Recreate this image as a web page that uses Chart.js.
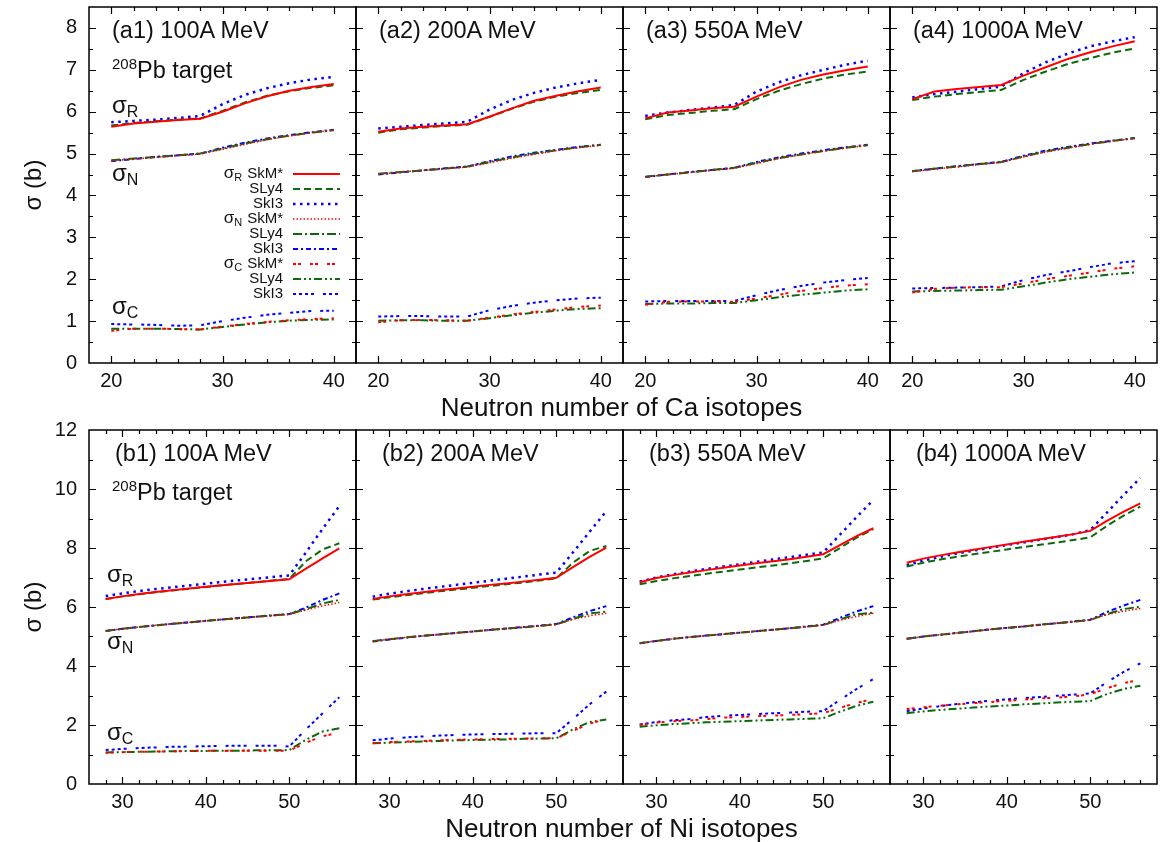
<!DOCTYPE html>
<html>
<head>
<meta charset="utf-8">
<script src="https://cdn.jsdelivr.net/npm/chart.js@4.4.0/dist/chart.umd.min.js"></script>
<style>
body{margin:0;background:#fff;width:1161px;height:842px;position:relative;overflow:hidden;font-family:"Liberation Sans",Arial,Helvetica,sans-serif;color:#111}
canvas{position:absolute}
.lbl{position:absolute;white-space:nowrap;line-height:1;z-index:2}
.title{font-size:23.5px}
.sig{font-size:24px}
.sig sub{font-size:16px;vertical-align:-4px;line-height:0}
.pb{font-size:23.5px}
.pb sup{font-size:15px;vertical-align:9px;line-height:0}
.xt{position:absolute;font-size:26px;line-height:1;width:1161px;text-align:center;left:0;padding-left:82px;box-sizing:border-box;z-index:2}
</style>
</head>
<body>
<script>
// neutron numbers
const caN = [20,22,24,26,28,30,32,34,36,38,40]
const niN = [28,30,32,34,36,38,40,42,44,46,48,50,52,54,56]

// tick labels
const caXTicks = [20,30,40]
const niXTicks = [30,40,50]
const caYTicks = [0,1,2,3,4,5,6,7,8]
const niYTicks = [0,2,4,6,8,10,12]

const models = ["SkM*","SLy4","SkI3"]
const energies = ["100A MeV","200A MeV","550A MeV","1000A MeV"]

// each array: rows SkM*, SLy4, SkI3  (barn)
// ---- Ca isotopes ----
const a1_R = [[5.64,5.72,5.76,5.80,5.83,6.00,6.20,6.37,6.50,6.59,6.66],
              [5.67,5.73,5.77,5.81,5.84,6.02,6.22,6.38,6.49,6.57,6.63],
              [5.75,5.78,5.81,5.85,5.90,6.18,6.40,6.56,6.68,6.77,6.83]]
const a1_N = [[4.83,4.87,4.91,4.95,4.99,5.10,5.22,5.33,5.42,5.50,5.56],
              [4.84,4.88,4.92,4.96,5.00,5.12,5.24,5.34,5.43,5.50,5.56],
              [4.82,4.87,4.92,4.96,5.00,5.14,5.26,5.36,5.44,5.51,5.57]]
const a1_C = [[0.77,0.82,0.82,0.81,0.80,0.87,0.93,0.98,1.02,1.05,1.07],
              [0.82,0.82,0.82,0.81,0.80,0.86,0.92,0.97,1.01,1.03,1.04],
              [0.93,0.92,0.91,0.89,0.90,1.00,1.08,1.15,1.20,1.24,1.25]]

const a2_R = [[5.52,5.60,5.64,5.67,5.70,5.88,6.08,6.26,6.38,6.49,6.58],
              [5.50,5.58,5.62,5.66,5.69,5.88,6.07,6.24,6.36,6.45,6.52],
              [5.60,5.64,5.68,5.72,5.76,6.05,6.28,6.45,6.58,6.68,6.76]]
const a2_N = [[4.51,4.56,4.60,4.64,4.68,4.78,4.89,4.98,5.07,5.14,5.20],
              [4.52,4.56,4.60,4.64,4.69,4.80,4.91,5.00,5.08,5.15,5.21],
              [4.50,4.55,4.60,4.65,4.69,4.82,4.93,5.02,5.09,5.16,5.21]]
const a2_C = [[0.97,1.02,1.03,1.02,1.01,1.08,1.16,1.22,1.28,1.34,1.37],
              [1.01,1.02,1.02,1.01,1.01,1.07,1.14,1.20,1.25,1.29,1.31],
              [1.11,1.12,1.12,1.11,1.11,1.26,1.36,1.44,1.50,1.54,1.56]]

const a3_R = [[5.84,5.98,6.03,6.08,6.12,6.36,6.58,6.76,6.89,6.99,7.08],
              [5.82,5.92,5.97,6.02,6.06,6.30,6.50,6.66,6.79,6.89,6.96],
              [5.90,5.98,6.04,6.10,6.16,6.48,6.70,6.87,7.00,7.12,7.22]]
const a3_N = [[4.44,4.50,4.55,4.60,4.65,4.76,4.88,4.97,5.06,5.13,5.20],
              [4.45,4.50,4.55,4.61,4.66,4.78,4.89,4.98,5.06,5.14,5.20],
              [4.44,4.50,4.56,4.61,4.66,4.80,4.91,5.00,5.08,5.15,5.21]]
const a3_C = [[1.39,1.46,1.47,1.47,1.46,1.54,1.63,1.72,1.79,1.85,1.88],
              [1.41,1.42,1.42,1.43,1.43,1.50,1.57,1.63,1.68,1.73,1.76],
              [1.47,1.48,1.48,1.48,1.48,1.62,1.74,1.84,1.92,1.98,2.03]]

const a4_R = [[6.30,6.48,6.54,6.59,6.64,6.86,7.06,7.26,7.42,7.56,7.68],
              [6.28,6.36,6.42,6.47,6.52,6.76,6.96,7.14,7.28,7.41,7.51],
              [6.34,6.42,6.48,6.54,6.60,6.92,7.18,7.39,7.56,7.68,7.78]]
const a4_N = [[4.57,4.63,4.68,4.74,4.79,4.92,5.04,5.13,5.22,5.30,5.36],
              [4.58,4.64,4.69,4.75,4.80,4.93,5.05,5.14,5.23,5.30,5.37],
              [4.58,4.64,4.70,4.75,4.80,4.95,5.07,5.16,5.24,5.31,5.37]]
const a4_C = [[1.68,1.77,1.80,1.81,1.81,1.90,2.00,2.08,2.16,2.25,2.31],
              [1.71,1.72,1.73,1.74,1.75,1.83,1.92,2.00,2.06,2.12,2.16],
              [1.78,1.79,1.80,1.81,1.83,1.98,2.10,2.19,2.29,2.38,2.43]]

// ---- Ni isotopes ----
const b1_R = [[6.27,6.36,6.44,6.51,6.57,6.63,6.69,6.74,6.79,6.84,6.89,6.94,7.30,7.65,7.99],
              [6.27,6.36,6.43,6.50,6.56,6.62,6.68,6.74,6.79,6.84,6.90,6.95,7.55,7.95,8.16],
              [6.37,6.46,6.54,6.61,6.67,6.73,6.79,6.85,6.91,6.96,7.02,7.07,7.85,8.65,9.42]]
const b1_N = [[5.19,5.26,5.32,5.38,5.43,5.48,5.53,5.58,5.62,5.66,5.71,5.75,5.90,6.04,6.15],
              [5.19,5.26,5.32,5.38,5.43,5.48,5.53,5.58,5.62,5.67,5.71,5.76,5.93,6.12,6.24],
              [5.19,5.26,5.32,5.38,5.43,5.48,5.53,5.58,5.63,5.67,5.72,5.76,5.98,6.24,6.46]]
const b1_C = [[1.06,1.08,1.09,1.10,1.11,1.12,1.13,1.12,1.13,1.13,1.13,1.13,1.40,1.62,1.74],
              [1.07,1.08,1.09,1.10,1.11,1.12,1.12,1.13,1.13,1.14,1.14,1.15,1.50,1.78,1.89],
              [1.15,1.19,1.22,1.24,1.26,1.27,1.28,1.29,1.30,1.30,1.30,1.27,1.85,2.40,2.94]]

const b2_R = [[6.27,6.36,6.43,6.50,6.57,6.63,6.69,6.75,6.80,6.86,6.92,6.99,7.35,7.70,8.01],
              [6.25,6.33,6.40,6.47,6.53,6.59,6.65,6.71,6.77,6.83,6.90,6.97,7.50,7.90,8.07],
              [6.35,6.45,6.53,6.61,6.68,6.75,6.82,6.89,6.96,7.03,7.10,7.16,7.85,8.55,9.25]]
const b2_N = [[4.84,4.91,4.97,5.02,5.07,5.12,5.17,5.22,5.27,5.31,5.36,5.41,5.58,5.70,5.79],
              [4.84,4.91,4.97,5.02,5.07,5.12,5.17,5.22,5.27,5.31,5.36,5.41,5.60,5.78,5.84],
              [4.83,4.90,4.96,5.02,5.07,5.12,5.17,5.22,5.27,5.32,5.37,5.42,5.65,5.86,6.03]]
const b2_C = [[1.38,1.42,1.44,1.46,1.48,1.50,1.51,1.52,1.53,1.54,1.55,1.55,1.80,2.05,2.19],
              [1.38,1.40,1.42,1.44,1.46,1.48,1.49,1.50,1.51,1.53,1.54,1.55,1.85,2.10,2.19],
              [1.48,1.54,1.58,1.61,1.64,1.66,1.68,1.69,1.70,1.71,1.72,1.72,2.20,2.70,3.13]]

const b3_R = [[6.84,6.98,7.08,7.17,7.25,7.33,7.41,7.48,7.55,7.62,7.70,7.79,8.10,8.40,8.67],
              [6.77,6.88,6.97,7.05,7.13,7.20,7.27,7.34,7.41,7.48,7.56,7.65,8.00,8.35,8.64],
              [6.86,7.00,7.11,7.20,7.29,7.37,7.45,7.53,7.61,7.69,7.77,7.85,8.45,9.05,9.63]]
const b3_N = [[4.77,4.85,4.92,4.98,5.03,5.08,5.13,5.18,5.23,5.28,5.33,5.39,5.55,5.68,5.79],
              [4.77,4.85,4.92,4.98,5.03,5.08,5.13,5.18,5.23,5.28,5.33,5.39,5.58,5.75,5.81],
              [4.77,4.85,4.92,4.98,5.03,5.08,5.13,5.18,5.23,5.28,5.34,5.40,5.63,5.85,6.03]]
const b3_C = [[2.00,2.08,2.13,2.15,2.20,2.25,2.27,2.30,2.32,2.34,2.37,2.40,2.58,2.75,2.88],
              [1.94,1.99,2.03,2.06,2.09,2.11,2.13,2.15,2.17,2.19,2.21,2.23,2.45,2.65,2.79],
              [2.02,2.10,2.16,2.20,2.27,2.31,2.34,2.37,2.40,2.42,2.45,2.47,2.85,3.22,3.56]]

const b4_R = [[7.50,7.64,7.75,7.85,7.94,8.03,8.12,8.21,8.30,8.38,8.47,8.58,8.92,9.23,9.51],
              [7.37,7.50,7.61,7.70,7.79,7.87,7.95,8.03,8.11,8.19,8.27,8.36,8.75,9.10,9.40],
              [7.42,7.57,7.70,7.81,7.91,8.01,8.10,8.19,8.28,8.37,8.47,8.61,9.20,9.80,10.38]]
const b4_N = [[4.92,5.00,5.06,5.12,5.18,5.24,5.29,5.34,5.40,5.45,5.50,5.56,5.74,5.86,5.95],
              [4.92,5.00,5.06,5.12,5.18,5.24,5.29,5.34,5.40,5.45,5.50,5.56,5.76,5.93,6.01],
              [4.92,5.00,5.06,5.12,5.18,5.24,5.29,5.34,5.40,5.45,5.51,5.57,5.83,6.05,6.24]]
const b4_C = [[2.54,2.60,2.65,2.70,2.74,2.78,2.82,2.86,2.90,2.93,2.97,3.04,3.25,3.42,3.53],
              [2.40,2.46,2.51,2.55,2.59,2.63,2.66,2.70,2.73,2.76,2.79,2.81,3.05,3.22,3.33],
              [2.47,2.56,2.64,2.71,2.77,2.82,2.87,2.91,2.95,2.99,3.03,3.07,3.45,3.80,4.09]]

// line styles, order: sigR, sigN, sigC x (SkM*, SLy4, SkI3)
const RED = "#ff0000", GREEN = "#0b6b0b", BLUE = "#0000ff"
const styles = [
  {c:RED,   d:[],                w:2},
  {c:GREEN, d:[7,4],             w:2},
  {c:BLUE,  d:[2.5,4.5],         w:2.5},
  {c:RED,   d:[1.5,2],           w:1.5},
  {c:GREEN, d:[9,3,2,3],         w:2},
  {c:BLUE,  d:[5,3,2,3],         w:2},
  {c:RED,   d:[3,2,3,9],         w:2},
  {c:GREEN, d:[8,3,2,3,2,3],     w:2},
  {c:BLUE,  d:[3,3,3,3,3,3,3,9], w:2}
]

const rows = [
  {top:7,   h:356, T:7,  xmin:18, xmax:42, ymax:8.5, xt:caXTicks, yt:caYTicks, xMinor:2, xMajor:10, yMinor:0.5, yMajor:1, n:caN},
  {top:430, h:354, T:14, xmin:26, xmax:58, ymax:12,  xt:niXTicks, yt:niYTicks, xMinor:2, xMajor:10, yMinor:1,   yMajor:2, n:niN}
]
const frameLefts = [89,356,623,890]
const W = 267, B = 48, R = 4

const panels = [
  ["a1",0,0,a1_R,a1_N,a1_C],["a2",0,1,a2_R,a2_N,a2_C],["a3",0,2,a3_R,a3_N,a3_C],["a4",0,3,a4_R,a4_N,a4_C],
  ["b1",1,0,b1_R,b1_N,b1_C],["b2",1,1,b2_R,b2_N,b2_C],["b3",1,2,b3_R,b3_N,b3_C],["b4",1,3,b4_R,b4_N,b4_C]
]

// frame + inward ticks on all four sides
const frameTicks = {
  id: "frameTicks",
  afterDatasetsDraw(chart, args, o) {
    const {ctx, chartArea: a, scales: {x, y}} = chart
    const isMajor = (v, m) => Math.abs(v / m - Math.round(v / m)) < 1e-6
    ctx.save()
    ctx.strokeStyle = "#000"
    ctx.lineWidth = 1.2
    ctx.beginPath()
    for (let v = Math.ceil(x.min / o.xMinor) * o.xMinor; v < x.max - 1e-6; v += o.xMinor) {
      if (v <= x.min + 1e-6) continue
      const p = Math.round(x.getPixelForValue(v)) + 0.5
      const len = isMajor(v, o.xMajor) ? 7 : 4
      ctx.moveTo(p, a.bottom); ctx.lineTo(p, a.bottom - len)
      ctx.moveTo(p, a.top); ctx.lineTo(p, a.top + len)
    }
    for (let v = o.yMinor; v < y.max - 1e-6; v += o.yMinor) {
      const p = Math.round(y.getPixelForValue(v)) + 0.5
      const len = isMajor(v, o.yMajor) ? 7 : 4
      ctx.moveTo(a.left, p); ctx.lineTo(a.left + len, p)
      ctx.moveTo(a.right, p); ctx.lineTo(a.right - len, p)
    }
    ctx.stroke()
    ctx.lineWidth = 1.5
    ctx.strokeRect(a.left, a.top, a.right - a.left, a.bottom - a.top)
    ctx.restore()
  }
}

// key of panel (a1): text right aligned, then a line sample of each dataset
const sigmaLegend = {
  id: "sigmaLegend",
  afterDatasetsDraw(chart, args, o) {
    if (!o.show) return
    const ctx = chart.ctx
    ctx.save()
    chart.data.datasets.forEach((ds, i) => {
      const yy = o.top + i * o.step
      ctx.strokeStyle = ds.borderColor
      ctx.lineWidth = ds.borderWidth
      ctx.setLineDash(ds.borderDash)
      ctx.beginPath()
      ctx.moveTo(o.x1, yy); ctx.lineTo(o.x2, yy)
      ctx.stroke()
      ctx.setLineDash([])
      ctx.fillStyle = "#111"
      ctx.textAlign = "right"
      ctx.textBaseline = "middle"
      ctx.font = '15px "Liberation Sans", Arial'
      ctx.fillText(ds.label, o.textX, yy)
      if (ds.group) {
        const w = ctx.measureText(ds.label).width
        const sx = o.textX - w - 5
        ctx.font = '11px "Liberation Sans", Arial'
        ctx.fillText(ds.group, sx, yy + 4)
        const sw = ctx.measureText(ds.group).width
        ctx.font = '17px "Liberation Sans", Arial'
        ctx.fillText("σ", sx - sw, yy - 1)
      }
    })
    ctx.restore()
  }
}

Chart.defaults.font.family = '"Liberation Sans", Arial, Helvetica, sans-serif'
Chart.defaults.font.size = 20
Chart.defaults.color = "#111"

panels.forEach(([id, r, c, sR, sN, sC]) => {
  const row = rows[r]
  const L = c === 0 ? 89 : 16
  const canvas = document.createElement("canvas")
  canvas.width = L + W + R
  canvas.height = row.T + row.h + B
  canvas.style.left = (frameLefts[c] - L) + "px"
  canvas.style.top = (row.top - row.T) + "px"
  document.body.appendChild(canvas)

  const datasets = []
  ;[sR, sN, sC].forEach((g, gi) => g.forEach((vals, mi) => {
    const s = styles[gi * 3 + mi]
    datasets.push({
      label: models[mi],
      group: mi === 0 ? ["R","N","C"][gi] : "",
      data: row.n.map((x, k) => ({x: x, y: vals[k]})),
      borderColor: s.c, borderWidth: s.w, borderDash: s.d,
      pointRadius: 0, tension: 0, fill: false
    })
  }))

  new Chart(canvas, {
    type: "line",
    data: {datasets},
    options: {
      responsive: false,
      animation: false,
      events: [],
      layout: {padding: {left: 0, right: R, top: row.T, bottom: 0}},
      plugins: {
        legend: {display: false},
        tooltip: {enabled: false},
        frameTicks: {xMinor: row.xMinor, xMajor: row.xMajor, yMinor: row.yMinor, yMajor: row.yMajor},
        sigmaLegend: {show: id === "a1", top: 174, step: 15, x1: 293, x2: 340, textX: 283}
      },
      scales: {
        x: {
          type: "linear", min: row.xmin, max: row.xmax,
          afterBuildTicks: s => { s.ticks = row.xt.map(v => ({value: v})) },
          afterFit: s => { s.height = B; s.paddingLeft = 0; s.paddingRight = 0 },
          grid: {display: false, drawTicks: false},
          border: {display: false},
          ticks: {padding: 6, maxRotation: 0, autoSkip: false}
        },
        y: {
          min: 0, max: row.ymax,
          afterBuildTicks: s => { s.ticks = row.yt.map(v => ({value: v})) },
          afterFit: s => { s.width = L; s.paddingTop = 0; s.paddingBottom = 0 },
          grid: {display: false, drawTicks: false},
          border: {display: false},
          ticks: {display: c === 0, padding: 12},
          title: {display: c === 0, text: "σ (b)", font: {size: 24}, padding: {top: 20, bottom: 0}}
        }
      }
    },
    plugins: [frameTicks, sigmaLegend]
  })

  // panel title
  const t = document.createElement("div")
  t.className = "lbl title"
  t.textContent = "(" + id + ") " + energies[c]
  t.style.left = (frameLefts[c] + (r === 0 ? 23 : 26)) + "px"
  t.style.top = (r === 0 ? 18.5 : 441.5) + "px"
  document.body.appendChild(t)
})

// annotations in the first column
function addLabel(cls, html, x, y) {
  const d = document.createElement("div")
  d.className = "lbl " + cls
  d.innerHTML = html
  d.style.left = x + "px"
  d.style.top = y + "px"
  document.body.appendChild(d)
}
addLabel("pb", "<sup>208</sup>Pb target", 112, 58.5)
addLabel("pb", "<sup>208</sup>Pb target", 112, 480.5)
addLabel("sig", "σ<sub>R</sub>", 112, 93)
addLabel("sig", "σ<sub>N</sub>", 112, 161)
addLabel("sig", "σ<sub>C</sub>", 112, 294)
addLabel("sig", "σ<sub>R</sub>", 107, 562)
addLabel("sig", "σ<sub>N</sub>", 107, 629)
addLabel("sig", "σ<sub>C</sub>", 107, 720)

// x-axis titles under each row
function addXTitle(text, y) {
  const d = document.createElement("div")
  d.className = "xt"
  d.style.top = y + "px"
  d.textContent = text
  document.body.appendChild(d)
}
addXTitle("Neutron number of Ca isotopes", 394)
addXTitle("Neutron number of Ni isotopes", 815)
</script>
</body>
</html>
